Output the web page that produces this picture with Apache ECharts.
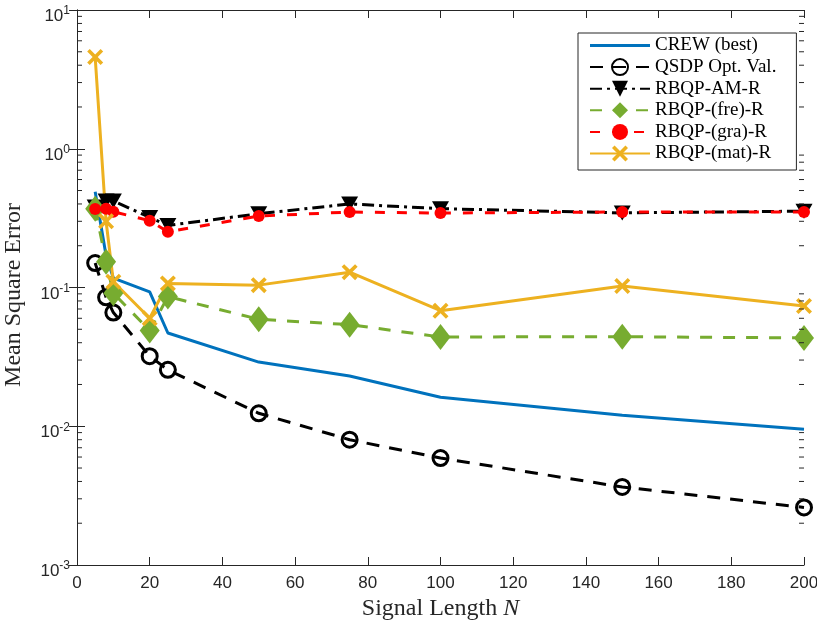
<!DOCTYPE html>
<html>
<head>
<meta charset="utf-8">
<script src="https://cdn.jsdelivr.net/npm/echarts@6/dist/echarts.min.js"></script>
<style>
html,body{margin:0;padding:0;background:#fff;}
#chart{width:817px;height:620px;}
</style>
</head>
<body>
<div id="chart"></div>
<script>
var signalLength = [5, 8, 10, 20, 25, 50, 75, 100, 150, 200];
var crewBest   = [0.49, 0.17, 0.117, 0.093, 0.047, 0.0290, 0.0230, 0.0162, 0.0120, 0.0095];
var qsdpOpt    = [0.15, 0.085, 0.066, 0.032, 0.0255, 0.0124, 0.0080, 0.0059, 0.00365, 0.0026];
var rbqpAM     = [0.38, 0.42, 0.42, 0.32, 0.28, 0.34, 0.40, 0.37, 0.345, 0.355];
var rbqpFre    = [0.37, 0.153, 0.091, 0.049, 0.086, 0.059, 0.054, 0.044, 0.0442, 0.0433];
var rbqpGra    = [0.368, 0.37, 0.352, 0.303, 0.252, 0.327, 0.35, 0.344, 0.35, 0.35];
var rbqpMat    = [4.58, 0.30, 0.110, 0.060, 0.107, 0.104, 0.129, 0.068, 0.1025, 0.0736];
var seriesNames = ['CREW (best)', 'QSDP Opt. Val.', 'RBQP-AM-R', 'RBQP-(fre)-R', 'RBQP-(gra)-R', 'RBQP-(mat)-R'];
var xTicks = [0, 20, 40, 60, 80, 100, 120, 140, 160, 180, 200];
var yMinorTicks = [0.002,0.003,0.004,0.005,0.006,0.007,0.008,0.009,
                   0.02,0.03,0.04,0.05,0.06,0.07,0.08,0.09,
                   0.2,0.3,0.4,0.5,0.6,0.7,0.8,0.9,
                   2,3,4,5,6,7,8,9];

function pairs(ys){ return signalLength.map(function(x,i){ return [x, ys[i]]; }); }

var AX = '#262626';
var xSymbol = 'path://M0,1.6L1.6,0L5,3.4L8.4,0L10,1.6L6.6,5L10,8.4L8.4,10L5,6.6L1.6,10L0,8.4L3.4,5Z';

var chart = echarts.init(document.getElementById('chart'), null, {renderer:'canvas'});
var option = {
  animation: false,
  backgroundColor: '#fff',
  grid: {left: 77, right: 13, top: 10, bottom: 55, containLabel: false, outerBoundsMode: 'none'},
  xAxis: [{
    type: 'value', min: 0, max: 200, interval: 20, position: 'bottom',
    name: 'Signal Length {i|N}', nameLocation: 'middle', nameGap: 28,
    nameTextStyle: {fontFamily: 'Liberation Serif', fontSize: 24, color: AX,
      rich: {i: {fontFamily: 'Liberation Serif', fontStyle: 'italic', fontSize: 24, color: AX}}},
    axisLine: {show: true, lineStyle: {color: AX, width: 1}},
    axisTick: {show: true, inside: true, length: 8, lineStyle: {color: AX}},
    axisLabel: {fontFamily: 'Liberation Sans', fontSize: 17, color: AX, margin: 10},
    splitLine: {show: false}
  }, {
    type: 'value', min: 0, max: 200, interval: 20, position: 'top',
    axisLine: {show: true, lineStyle: {color: AX, width: 1}},
    axisTick: {show: true, inside: true, length: 8, lineStyle: {color: AX}},
    axisLabel: {show: false}, splitLine: {show: false}
  }],
  yAxis: [{
    type: 'log', logBase: 10, min: 0.001, max: 10, splitNumber: 4, position: 'left',
    name: 'Mean Square Error', nameLocation: 'middle', nameGap: 51, nameRotate: 90,
    nameTextStyle: {fontFamily: 'Liberation Serif', fontSize: 24, color: AX, padding: [0, 15, 0, 0]},
    axisLine: {show: true, lineStyle: {color: AX, width: 1}},
    axisTick: {show: true, inside: true, length: 8, lineStyle: {color: AX}},
    axisLabel: {
      margin: 7, color: AX,
      formatter: function(v){ var e = Math.round(Math.log10(v)); return '{b|10}{s|' + e + '}'; },
      rich: {
        b: {fontFamily: 'Liberation Sans', fontSize: 17, color: AX, lineHeight: 30, verticalAlign: 'bottom'},
        s: {fontFamily: 'Liberation Sans', fontSize: 12, color: AX, lineHeight: 14, verticalAlign: 'top', padding:[10,0,0,0]}
      }
    },
    splitLine: {show: false}
  }, {
    type: 'log', logBase: 10, min: 0.001, max: 10, splitNumber: 4, position: 'right',
    axisLine: {show: true, lineStyle: {color: AX, width: 1}},
    axisTick: {show: true, inside: true, length: 8, lineStyle: {color: AX}},
    axisLabel: {show: false}, splitLine: {show: false}
  }],
  legend: {
    orient: 'vertical', left: 578, top: 33,
    padding: [3, 20, 7, 11], itemGap: 2.6, itemWidth: 60, itemHeight: 20,
    backgroundColor: '#fff', borderColor: AX, borderWidth: 1, borderRadius: 0,
    textStyle: {fontFamily: 'Liberation Serif', fontSize: 19, color: '#000'},
    data: [
      {name: seriesNames[0], icon: 'path://M0,0H60V3H0Z'},
      seriesNames[1], seriesNames[2], seriesNames[3], seriesNames[4], seriesNames[5]
    ]
  },
  series: [
    {
      type: 'custom', name: 'minorTicks', silent: true, z: 10,
      xAxisIndex: 0, yAxisIndex: 0,
      data: yMinorTicks.map(function(v){ return [0, v]; }),
      renderItem: function(params, api){
        var p0 = api.coord([0, api.value(1)]);
        var p1 = api.coord([200, api.value(1)]);
        return {type: 'group', children: [
          {type: 'line', shape: {x1: p0[0], y1: p0[1], x2: p0[0] + 5, y2: p0[1]}, style: {stroke: AX, lineWidth: 1}},
          {type: 'line', shape: {x1: p1[0] - 5, y1: p1[1], x2: p1[0], y2: p1[1]}, style: {stroke: AX, lineWidth: 1}}
        ]};
      }
    },
    {
      name: seriesNames[0], type: 'line', data: pairs(crewBest),
      symbol: 'none', lineStyle: {color: '#0072BD', width: 3}, itemStyle: {color: '#0072BD'}
    },
    {
      name: seriesNames[1], type: 'line', data: pairs(qsdpOpt),
      symbol: 'circle', symbolSize: 15,
      lineStyle: {color: '#000', width: 3, type: [13, 10]},
      itemStyle: {color: 'rgba(255,255,255,0)', borderColor: '#000', borderWidth: 3}
    },
    {
      name: seriesNames[2], type: 'line', data: pairs(rbqpAM),
      symbol: 'triangle', symbolRotate: 180, symbolSize: [17, 15],
      lineStyle: {color: '#000', width: 3, type: [12, 5, 3, 5]},
      itemStyle: {color: '#000'}
    },
    {
      name: seriesNames[3], type: 'line', data: pairs(rbqpFre),
      symbol: 'diamond', symbolSize: [20, 26],
      lineStyle: {color: '#77AC30', width: 3, type: [12, 11]},
      itemStyle: {color: '#77AC30'}
    },
    {
      name: seriesNames[4], type: 'line', data: pairs(rbqpGra),
      symbol: 'circle', symbolSize: 12,
      lineStyle: {color: '#FF0000', width: 3, type: [10, 12]},
      itemStyle: {color: '#FF0000'}
    },
    {
      name: seriesNames[5], type: 'line', data: pairs(rbqpMat),
      symbol: xSymbol, symbolSize: 16,
      lineStyle: {color: '#EDB120', width: 3},
      itemStyle: {color: '#EDB120'}
    }
  ]
};
chart.setOption(option);
</script>
</body>
</html>
